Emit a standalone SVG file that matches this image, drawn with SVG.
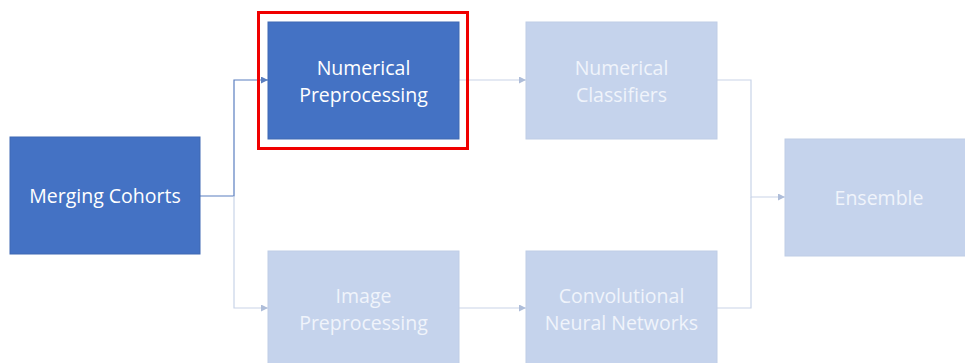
<svg xmlns="http://www.w3.org/2000/svg" width="965" height="363" viewBox="0 0 965 363">
  <style>
    .dark { fill: #4472C4; stroke: #3F68B3; stroke-width: 1; }
    .light { fill: #C5D3EC; stroke: #BFCDE6; stroke-width: 1; }
    .lbl { font-family: "Open Sans", "Liberation Sans", sans-serif; font-size: 19.5px; text-anchor: middle; }
    .lbl-dark { fill: #FFFFFF; }
    .lbl-light { fill: #F0F4FB; }
    .wire { fill: none; stroke-width: 1.2; }
    .wire-dark { stroke: #5B7FC0; }
    .wire-light { stroke: #C9D4E8; }
  </style>
  <defs>
    <marker id="arrDark" viewBox="0 0 10 10" refX="10" refY="5" markerWidth="7" markerHeight="7" markerUnits="userSpaceOnUse" orient="auto">
      <path d="M0,0 L10,5 L0,10 z" fill="#5B7FC0"/>
    </marker>
    <marker id="arrLight" viewBox="0 0 10 10" refX="10" refY="5" markerWidth="7" markerHeight="7" markerUnits="userSpaceOnUse" orient="auto">
      <path d="M0,0 L10,5 L0,10 z" fill="#AEBDD9"/>
    </marker>
  </defs>

  <g id="connectors">
    <path class="wire wire-dark" d="M200,196 H234 V80 H268" marker-end="url(#arrDark)"/>
    <path class="wire wire-light" d="M234,196 V308 H268" marker-end="url(#arrLight)"/>
    <path class="wire wire-light" d="M459,80 H526" marker-end="url(#arrLight)"/>
    <path class="wire wire-light" d="M459,308 H526" marker-end="url(#arrLight)"/>
    <path class="wire wire-light" d="M717,80 H751 V197 H785" marker-end="url(#arrLight)"/>
    <path class="wire wire-light" d="M717,308 H751 V197"/>
  </g>

  <g id="merging-cohorts">
    <rect class="dark" x="10" y="137" width="190" height="117"/>
    <text class="lbl lbl-dark" x="105" y="203">Merging Cohorts</text>
  </g>

  <g id="numerical-preprocessing">
    <rect x="258.5" y="12.5" width="209" height="136" fill="none" stroke="#F00000" stroke-width="3"/>
    <rect class="dark" x="268" y="22" width="191" height="117"/>
    <text class="lbl lbl-dark" x="363.5" y="75">Numerical</text>
    <text class="lbl lbl-dark" x="363.5" y="102">Preprocessing</text>
  </g>

  <g id="numerical-classifiers">
    <rect class="light" x="526" y="22" width="191" height="117"/>
    <text class="lbl lbl-light" x="621.5" y="75">Numerical</text>
    <text class="lbl lbl-light" x="621.5" y="102">Classifiers</text>
  </g>

  <g id="ensemble">
    <rect class="light" x="785" y="139" width="190" height="117"/>
    <text class="lbl lbl-light" x="879" y="205">Ensemble</text>
  </g>

  <g id="image-preprocessing">
    <rect class="light" x="268" y="251" width="191" height="120"/>
    <text class="lbl lbl-light" x="363.5" y="303">Image</text>
    <text class="lbl lbl-light" x="363.5" y="330">Preprocessing</text>
  </g>

  <g id="cnn">
    <rect class="light" x="526" y="251" width="191" height="120"/>
    <text class="lbl lbl-light" x="621.5" y="303">Convolutional</text>
    <text class="lbl lbl-light" x="621.5" y="330">Neural Networks</text>
  </g>
</svg>
